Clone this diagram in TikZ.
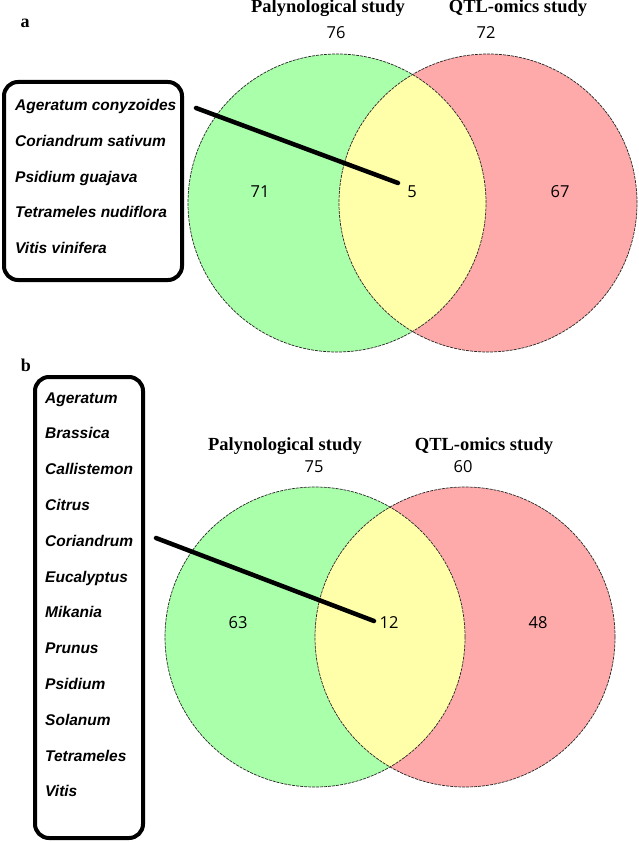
\documentclass[tikz,border=0pt]{standalone}
\usepackage{fontspec}
\setmainfont{Liberation Serif}
\newfontfamily\speciesfont{Liberation Sans}
\newfontfamily\numfont{Open Sans}
\begin{document}
\begin{tikzpicture}[x=1pt,y=-1pt]
\definecolor{vgreen}{RGB}{170,255,170}
\definecolor{vred}{RGB}{255,170,170}
\definecolor{vyellow}{RGB}{255,255,170}
\tikzset{
  vline/.style={draw=black!85, line width=0.7pt, dash pattern=on 3pt off 1pt},
  spbox/.style={draw=black, line width=4pt, rounded corners=14pt},
  species/.style={anchor=base west, inner sep=0pt, font=\speciesfont\bfseries\itshape\fontsize{15.5}{16}\selectfont},
  title/.style={anchor=base, inner sep=0pt, font=\bfseries\fontsize{18.5}{19}\selectfont},
  num/.style={anchor=center, inner sep=0pt, font=\numfont\fontsize{16.5}{17}\selectfont},
  panel/.style={anchor=center, inner sep=0pt, font=\bfseries\fontsize{18}{19}\selectfont},
  conn/.style={line width=4.5pt, line cap=round}
}
\useasboundingbox[fill=white] (0,0) rectangle (638,842);

% ---------------- panel a ----------------
\node[panel] (pa) at (25,23) {a};
\fill[vgreen] (337,203) circle (149pt);
\fill[vred] (488,203) circle (149pt);
\begin{scope}
  \clip (337,203) circle (149pt);
  \fill[vyellow] (488,203) circle (149pt);
\end{scope}
\draw[vline] (337,203) circle (149pt);
\draw[vline] (488,203) circle (149pt);
\node[title] (ta1) at (328,13) {Palynological study};
\node[title] (ta2) at (518,13) {QTL-omics study};
\node[num] (na1) at (336,33) {76};
\node[num] (na2) at (486,33) {72};
\node[num] (na3) at (260,192) {71};
\node[num] (na4) at (412,192) {5};
\node[num] (na5) at (560,192) {67};
\draw[spbox] (4,82) rectangle (182,280);
\node[species] (sa1) at (15,111) {Ageratum conyzoides};
\node[species] (sa2) at (15,146.7) {Coriandrum sativum};
\node[species] (sa3) at (15,182.4) {Psidium guajava};
\node[species] (sa4) at (15,218) {Tetrameles nudiflora};
\node[species] (sa5) at (15,253.8) {Vitis vinifera};
\coordinate (la1) at (196,108);
\coordinate (la2) at (398,183);
\draw[conn] (la1) -- (la2);

% ---------------- panel b ----------------
\node[panel] (pb) at (26,365) {b};
\fill[vgreen] (315,637) circle (150pt);
\fill[vred] (465,637) circle (150pt);
\begin{scope}
  \clip (315,637) circle (150pt);
  \fill[vyellow] (465,637) circle (150pt);
\end{scope}
\draw[vline] (315,637) circle (150pt);
\draw[vline] (465,637) circle (150pt);
\node[title] (tb1) at (285,450) {Palynological study};
\node[title] (tb2) at (484,450) {QTL-omics study};
\node[num] (nb1) at (314,467) {75};
\node[num] (nb2) at (463,467) {60};
\node[num] (nb3) at (238,623) {63};
\node[num] (nb4) at (389,623) {12};
\node[num] (nb5) at (538,623) {48};
\draw[spbox] (35,377) rectangle (143,838);
\node[species] (sb1) at (45,403) {Ageratum};
\node[species] (sb2) at (45,438.8) {Brassica};
\node[species] (sb3) at (45,474.6) {Callistemon};
\node[species] (sb4) at (45,510.4) {Citrus};
\node[species] (sb5) at (45,546.2) {Coriandrum};
\node[species] (sb6) at (45,582) {Eucalyptus};
\node[species] (sb7) at (45,617.8) {Mikania};
\node[species] (sb8) at (45,653.6) {Prunus};
\node[species] (sb9) at (45,689.4) {Psidium};
\node[species] (sb10) at (45,725.2) {Solanum};
\node[species] (sb11) at (45,761) {Tetrameles};
\node[species] (sb12) at (45,796.8) {Vitis};
\coordinate (lb1) at (156,538);
\coordinate (lb2) at (374,621);
\draw[conn] (lb1) -- (lb2);
\end{tikzpicture}
\end{document}
